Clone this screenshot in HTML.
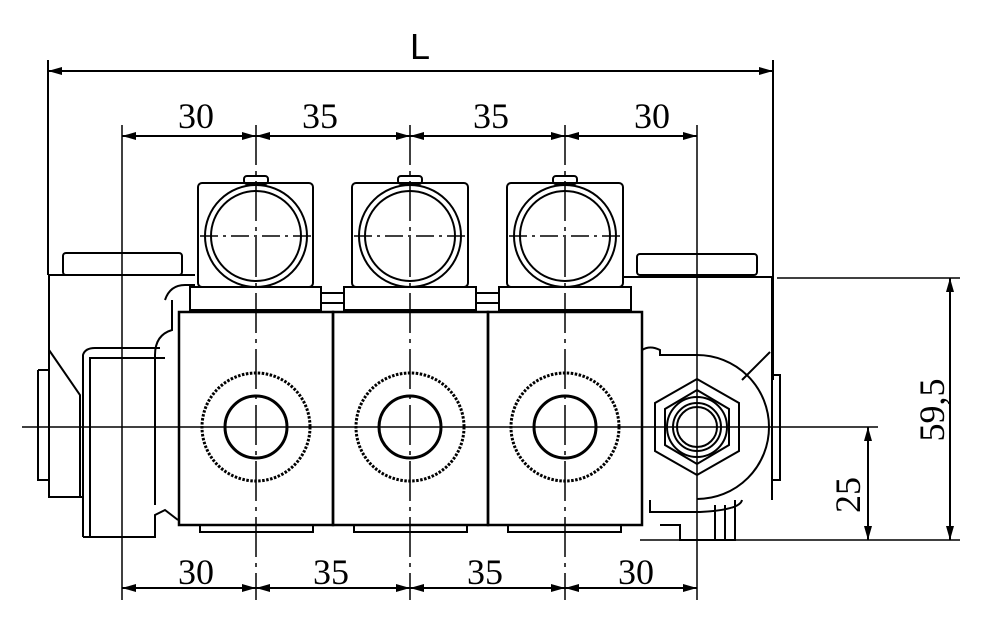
<!DOCTYPE html>
<html><head><style>body{margin:0;background:#fff}svg{display:block}</style></head><body>
<svg width="1000" height="635" viewBox="0 0 1000 635" xmlns="http://www.w3.org/2000/svg">
<defs>
<marker id="a" markerWidth="14" markerHeight="8" refX="14" refY="4" orient="auto-start-reverse" markerUnits="userSpaceOnUse"><path d="M0,0 L14,4 L0,8 z" fill="#000"/></marker>
</defs>
<g fill="none" stroke="#000" stroke-width="2">
<line x1="48" y1="60" x2="48" y2="275"/>
<line x1="773" y1="60" x2="773" y2="380"/>
<line x1="122" y1="125" x2="122" y2="600" stroke-width="1.5"/>
<line x1="697" y1="125" x2="697" y2="600" stroke-width="1.5"/>
<line x1="48" y1="71" x2="773" y2="71" marker-start="url(#a)" marker-end="url(#a)"/>
<line x1="122" y1="136" x2="256" y2="136" marker-start="url(#a)" marker-end="url(#a)"/>
<line x1="256" y1="136" x2="410" y2="136" marker-start="url(#a)" marker-end="url(#a)"/>
<line x1="410" y1="136" x2="565" y2="136" marker-start="url(#a)" marker-end="url(#a)"/>
<line x1="565" y1="136" x2="697" y2="136" marker-start="url(#a)" marker-end="url(#a)"/>
<line x1="122" y1="588" x2="256" y2="588" marker-start="url(#a)" marker-end="url(#a)"/>
<line x1="256" y1="588" x2="410" y2="588" marker-start="url(#a)" marker-end="url(#a)"/>
<line x1="410" y1="588" x2="565" y2="588" marker-start="url(#a)" marker-end="url(#a)"/>
<line x1="565" y1="588" x2="697" y2="588" marker-start="url(#a)" marker-end="url(#a)"/>
<line x1="256" y1="125" x2="256" y2="600" stroke-width="1.5" stroke-dasharray="40,6,4,6"/>
<line x1="410" y1="125" x2="410" y2="600" stroke-width="1.5" stroke-dasharray="40,6,4,6"/>
<line x1="565" y1="125" x2="565" y2="600" stroke-width="1.5" stroke-dasharray="40,6,4,6"/>
<line x1="22" y1="427" x2="878" y2="427" stroke-width="1.5"/>
<line x1="777" y1="278" x2="960" y2="278" stroke-width="1.5"/>
<line x1="640" y1="540" x2="960" y2="540" stroke-width="1.5"/>
<line x1="950" y1="278" x2="950" y2="540" marker-start="url(#a)" marker-end="url(#a)"/>
<line x1="868" y1="427" x2="868" y2="540" marker-start="url(#a)" marker-end="url(#a)"/>

<rect x="63" y="253" width="119" height="22" rx="3"/>
<path d="M49,275 H195 M49,275 V497 H83 M38,370 H49 M38,370 V480 H49"/>
<path d="M49,350 L80,395 V497"/>
<path d="M83,537 V355 Q85,348 95,348 H160 M90,537 V358 H165"/>
<path d="M83,537 H155 V515 L165,510 L178,520"/>
<path d="M165,300 Q170,285 185,285 H195 M172,300 V330 Q155,335 155,355 V505"/>
<rect x="637" y="254" width="120" height="21" rx="3"/>
<path d="M622,277 H772 V500 M772,375 H780 V480 H772"/>
<path d="M642,350 Q650,345 660,350 V355 H697 A72,72 0 0 1 697,499"/>
<path d="M742,380 L770,352"/>
<path d="M650,500 V512 H700 Q740,510 742,500 M660,525 H680 V540 H735 V500 M715,505 V540 M725,505 V540"/>
<polygon points="697,379 739,403 739,451 697,475 655,451 655,403"/>
<polygon points="697,390 729,409 729,445 697,464 665,445 665,409"/>
<circle cx="697" cy="427" r="30"/>
<circle cx="697" cy="427" r="24"/>
<circle cx="697" cy="427" r="20"/>

<rect x="179" y="312" width="154" height="213" stroke-width="2.5"/>
<rect x="333" y="312" width="155" height="213" stroke-width="2.5"/>
<rect x="488" y="312" width="154" height="213" stroke-width="2.5"/>
<path d="M200,525 V532 H313 V525 M354,525 V532 H467 V525 M508,525 V532 H621 V525"/>
<g stroke-width="3">
<circle cx="256" cy="427" r="54" stroke-dasharray="2.5,1.5"/><circle cx="256" cy="427" r="31"/>
<circle cx="410" cy="427" r="54" stroke-dasharray="2.5,1.5"/><circle cx="410" cy="427" r="31"/>
<circle cx="565" cy="427" r="54" stroke-dasharray="2.5,1.5"/><circle cx="565" cy="427" r="31"/>
</g>
<g>
<rect x="198" y="183" width="115" height="104" rx="4"/>
<rect x="190" y="287" width="131" height="23"/>
<circle cx="256" cy="236" r="51"/><circle cx="256" cy="236" r="45"/>
<rect x="244" y="176" width="24" height="8" rx="3"/>
<rect x="352" y="183" width="116" height="104" rx="4"/>
<rect x="344" y="287" width="132" height="23"/>
<circle cx="410" cy="236" r="51"/><circle cx="410" cy="236" r="45"/>
<rect x="398" y="176" width="24" height="8" rx="3"/>
<rect x="507" y="183" width="116" height="104" rx="4"/>
<rect x="499" y="287" width="132" height="23"/>
<circle cx="565" cy="236" r="51"/><circle cx="565" cy="236" r="45"/>
<rect x="553" y="176" width="24" height="8" rx="3"/>
<path d="M321,293 H344 M321,303 H344 M476,293 H499 M476,303 H499"/>
</g>
<g stroke-width="1.5" stroke-dasharray="18,5,3,5">
<line x1="200" y1="236" x2="312" y2="236"/>
<line x1="354" y1="236" x2="466" y2="236"/>
<line x1="509" y1="236" x2="621" y2="236"/>
</g>
</g>
<g font-family="Liberation Serif, serif" font-size="36" text-anchor="middle" fill="#000">
<text x="420" y="59" font-family="Liberation Sans, sans-serif" font-size="36">L</text>
<text x="196" y="128">30</text><text x="320" y="128">35</text><text x="491" y="128">35</text><text x="652" y="128">30</text>
<text x="196" y="584">30</text><text x="331" y="584">35</text><text x="485" y="584">35</text><text x="636" y="584">30</text>
<text transform="translate(944,410) rotate(-90)" font-family="Liberation Serif, serif">59,5</text>
<text transform="translate(860,495) rotate(-90)" font-family="Liberation Serif, serif">25</text>
</g>
</svg>
</body></html>
